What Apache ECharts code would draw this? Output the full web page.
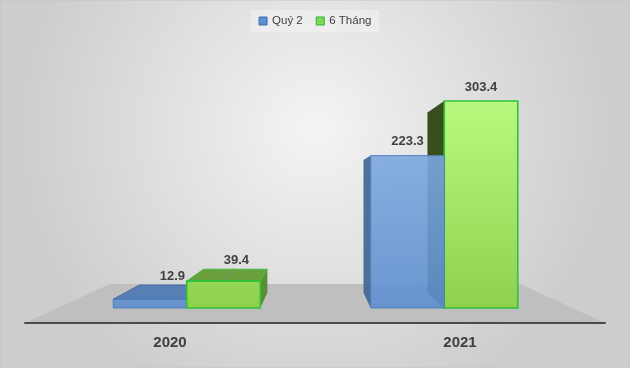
<!DOCTYPE html>
<html><head><meta charset="utf-8">
<script src="https://cdn.jsdelivr.net/npm/echarts@6/dist/echarts.min.js"></script>
<style>html,body{margin:0;padding:0;background:#fff}#c{width:630px;height:368px}</style>
</head><body><div id="c"></div>
<script>
var categories = ['2020', '2021'];
var seriesNames = ['Quý 2', '6 Tháng'];
var q2Values = [12.9, 223.3];
var sixMonthValues = [39.4, 303.4];

// layout / perspective constants (style only)
var VP = [315, 190];
var DEPTH = 0.13;
var BAR_FRAC = 0.2855;
var FLOOR_DEPTH = 0.293;
var TXT = '#404040';
var FONT = 'Liberation Sans, Arial, sans-serif';

var palettes = [
  { top: '#4d78b3', right: '#4a72a6', left: '#3e6391', frontTop: '#7ca8de', frontBot: '#5e8ecf', border: '#4a7cbc', topBorder: '#3f6aa5', bw: 1, opacity: 0.9, legend: '#5b8fd6', legendBorder: '#3d6eb0' },
  { top: '#6aa03b', right: '#5b8e33', left: '#384f1d', frontTop: '#b9f87e', frontBot: '#8fd14f', border: '#2ec436', topBorder: '#3cbf3c', bw: 1.6, opacity: 1, legend: '#7fd85a', legendBorder: '#2fb336' }
];
var seriesData = [q2Values, sixMonthValues];

var chart = echarts.init(document.getElementById('c'), null, { renderer: 'canvas' });

function back(p) { return [p[0] + DEPTH * (VP[0] - p[0]), p[1] + DEPTH * (VP[1] - p[1])]; }

function makeRender(k) {
  var pal = palettes[k];
  var vmax = Math.max.apply(null, seriesData[k]);
  return function (params, api) {
    var ci = api.value(0), v = api.value(1);
    var top = api.coord([ci, v]), base = api.coord([ci, 0]);
    var gTop = api.coord([ci, vmax])[1];
    var band = api.size([1, 0])[0];
    var w = band * BAR_FRAC;
    var x0 = top[0] + (k === 0 ? -w : 0), x1 = x0 + w;
    var yT = top[1], yB = base[1];
    var cx = (x0 + x1) / 2;
    var z = 1000 - Math.abs(cx - VP[0]);
    var ch = [];
    if (x1 < VP[0]) {
      ch.push({ type: 'polygon', z2: z, shape: { points: [[x1, yT], [x1, yB], back([x1, yB]), back([x1, yT])] },
        style: { fill: pal.right, opacity: pal.opacity } });
    }
    if (x0 > VP[0]) {
      ch.push({ type: 'polygon', z2: z, shape: { points: [[x0, yT], [x0, yB], back([x0, yB]), back([x0, yT])] },
        style: { fill: pal.left, opacity: pal.opacity } });
    }
    var topVisible = yT > VP[1];
    if (topVisible) {
      ch.push({ type: 'polygon', z2: z, shape: { points: [[x0, yT], [x1, yT], back([x1, yT]), back([x0, yT])] },
        style: { fill: pal.top, stroke: pal.topBorder, lineWidth: 1, opacity: pal.opacity } });
    }
    ch.push({ type: 'rect', z2: z + 0.5, shape: { x: x0, y: yT, width: w, height: yB - yT },
      style: { fill: new echarts.graphic.LinearGradient(0, gTop, 0, yB, [{ offset: 0, color: pal.frontTop }, { offset: 1, color: pal.frontBot }], true),
        stroke: pal.border, lineWidth: pal.bw, opacity: pal.opacity } });
    var lx, ly;
    if (topVisible) {
      var bl = back([x0, yT]), br = back([x1, yT]);
      lx = (bl[0] + br[0]) / 2 + 1; ly = bl[1] - 9;
      if (yB - yT > 15) {
        ch.push({ type: 'line', z2: z + 0.6, shape: { x1: lx - 2, y1: ly + 8, x2: cx + 2, y2: yT },
          style: { stroke: '#8a8a8a', lineWidth: 1 } });
      }
    } else { lx = cx; ly = yT - 14; }
    ch.push({ type: 'text', z2: 5000, x: lx, y: ly,
      style: { text: v.toFixed(1), fill: TXT, font: 'bold 13px ' + FONT, align: 'center', verticalAlign: 'middle' } });
    return { type: 'group', children: ch };
  };
}

var W = 630, H = 368;
var g2 = { left: 25, right: 25, bottom: 45 };
var fy = H - g2.bottom, fl = g2.left, fr = W - g2.right;
function fb(p) { return [p[0] + FLOOR_DEPTH * (VP[0] - p[0]), p[1] + FLOOR_DEPTH * (VP[1] - p[1])]; }

chart.setOption({
  animation: false,
  graphic: [
    { type: 'rect', z: -10, shape: { x: 0, y: 0, width: W, height: H },
      style: { fill: new echarts.graphic.RadialGradient(0.5, 0.35, 0.8, [{ offset: 0, color: '#f4f4f4' }, { offset: 1, color: '#cdcdcd' }]), stroke: '#c4c4c4', lineWidth: 1 } },
    { type: 'polygon', z: -5, shape: { points: [[fl, fy], [fr, fy], fb([fr, fy]), fb([fl, fy])] }, style: { fill: '#bfbfbf' } }
  ],
  legend: {
    data: seriesNames.map(function (n, i) { return { name: n, itemStyle: { color: palettes[i].legend, borderColor: palettes[i].legendBorder, borderWidth: 1 } }; }),
    icon: 'rect', itemWidth: 8, itemHeight: 8, itemGap: 13, top: 10, left: 'center',
    padding: [5, 8], backgroundColor: 'rgba(255,255,255,0.3)',
    textStyle: { color: TXT, fontSize: 11.5, fontFamily: FONT }
  },
  grid: [
    { left: 58, right: 57, top: 35, bottom: 60 },
    { left: g2.left, right: g2.right, top: 35, bottom: g2.bottom }
  ],
  xAxis: [
    { type: 'category', gridIndex: 0, data: categories, show: false },
    { type: 'category', gridIndex: 1, data: categories, z: 1,
      axisLine: { lineStyle: { color: '#4a4a4a', width: 2 } }, axisTick: { show: false },
      axisLabel: { color: TXT, fontSize: 15, fontWeight: 'bold', fontFamily: FONT, margin: 12 } }
  ],
  yAxis: [
    { type: 'value', gridIndex: 0, min: 0, max: 400, show: false, splitLine: { show: false } },
    { type: 'value', gridIndex: 1, show: false, splitLine: { show: false } }
  ],
  series: [
    { name: seriesNames[0], type: 'custom', xAxisIndex: 0, yAxisIndex: 0, renderItem: makeRender(0),
      itemStyle: { color: palettes[0].legend }, encode: { x: 0, y: 1 },
      data: q2Values.map(function (v, i) { return [i, v]; }) },
    { name: seriesNames[1], type: 'custom', xAxisIndex: 0, yAxisIndex: 0, renderItem: makeRender(1),
      itemStyle: { color: palettes[1].legend }, encode: { x: 0, y: 1 },
      data: sixMonthValues.map(function (v, i) { return [i, v]; }) }
  ]
});
</script></body></html>
